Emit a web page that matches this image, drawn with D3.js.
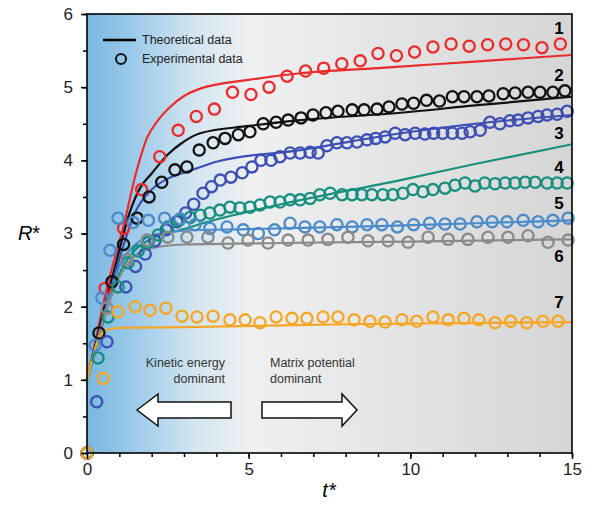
<!DOCTYPE html>
<meta charset="utf-8">
<html><head>
<title>R* vs t*</title>
<style>
  body { margin: 0; background: #fff; }
  text { font-family: "Liberation Sans", Arial, sans-serif; }
</style>
</head><body>
<script src="https://cdn.jsdelivr.net/npm/d3@7"></script>
<script>

// theoretical curves, [t*, R*]
var theory1 = [[0,1.0],[0.3,1.6],[0.56,2.15],[0.85,2.65],[1.13,3.1],[1.5,3.8],[1.85,4.3],[2.2,4.55],[2.57,4.73],[3.0,4.88],[3.5,4.98],[5,5.1],[6.6,5.19],[9,5.26],[12,5.35],[15,5.44]];
var theory2 = [[0,1.0],[0.3,1.55],[0.6,2.1],[0.9,2.6],[1.33,3.3],[1.64,3.62],[2.0,3.82],[2.5,4.08],[2.88,4.22],[3.5,4.37],[5,4.47],[6.6,4.55],[9.7,4.65],[12,4.75],[15,4.87]];
var theory3 = [[0,1.0],[0.3,1.5],[0.6,2.0],[1.0,2.65],[1.5,3.3],[2.0,3.6],[2.5,3.75],[3.2,3.86],[4,3.98],[6.6,4.14],[9.7,4.37],[12,4.5],[15,4.62]];
var theory4 = [[0,1.0],[0.3,1.45],[0.6,1.95],[1.0,2.45],[1.5,2.78],[2,2.93],[3,3.06],[3.5,3.13],[6,3.4],[9.7,3.73],[12,3.95],[15,4.22]];
var theory5 = [[0,1.0],[0.3,1.5],[0.6,2.0],[1.0,2.55],[1.5,2.85],[2,2.97],[3,3.04],[5,3.06],[9,3.1],[12,3.14],[15,3.18]];
var theory6 = [[0,1.0],[0.3,1.5],[0.6,1.95],[1.0,2.4],[1.5,2.7],[2,2.8],[3,2.85],[6,2.87],[10,2.89],[15,2.92]];
var theory7 = [[0,1.0],[0.2,1.35],[0.4,1.6],[0.6,1.68],[1.0,1.71],[3,1.72],[8,1.76],[15,1.79]];

// experimental points, [t*, R*]
var exp1 = [[0,0],[0.56,2.25],[1.13,3.07],[1.69,3.6],[2.25,4.05],[2.82,4.41],[3.38,4.6],[3.94,4.7],[4.5,4.93],[5.07,4.9],[5.63,5.0],[6.19,5.15],[6.76,5.22],[7.32,5.26],[7.88,5.32],[8.45,5.36],[9.0,5.46],[9.57,5.43],[10.13,5.48],[10.7,5.55],[11.26,5.59],[11.82,5.56],[12.39,5.58],[12.95,5.59],[13.5,5.58],[14.07,5.54],[14.64,5.59]];
var exp2 = [[0,0],[0.37,1.64],[0.77,2.34],[1.13,2.85],[1.55,3.21],[1.92,3.5],[2.31,3.7],[2.72,3.87],[3.09,3.91],[3.47,4.14],[3.9,4.24],[4.27,4.3],[4.68,4.35],[5.04,4.39],[5.45,4.5],[5.85,4.52],[6.22,4.55],[6.62,4.58],[6.99,4.62],[7.39,4.65],[7.76,4.67],[8.2,4.69],[8.57,4.69],[8.97,4.7],[9.34,4.73],[9.74,4.77],[10.1,4.78],[10.5,4.82],[10.9,4.81],[11.3,4.87],[11.66,4.87],[12.06,4.87],[12.43,4.88],[12.87,4.91],[13.24,4.92],[13.64,4.93],[14.01,4.93],[14.41,4.93],[14.78,4.95]];
var exp3 = [[0,0],[0.3,0.7],[0.62,1.52],[1.2,2.27],[1.5,2.55],[1.8,2.72],[2.1,2.9],[2.45,3.05],[2.78,3.16],[3.05,3.28],[3.3,3.4],[3.59,3.55],[3.85,3.64],[4.12,3.73],[4.45,3.77],[4.8,3.83],[5.1,3.91],[5.38,4.0],[5.69,4.0],[5.97,4.05],[6.28,4.1],[6.59,4.1],[6.9,4.11],[7.15,4.1],[7.42,4.2],[7.73,4.24],[8.04,4.24],[8.35,4.25],[8.66,4.28],[8.93,4.3],[9.22,4.32],[9.53,4.37],[9.84,4.35],[10.15,4.37],[10.45,4.36],[10.72,4.37],[11.0,4.37],[11.3,4.37],[11.6,4.37],[11.85,4.39],[12.16,4.41],[12.46,4.52],[12.77,4.5],[13.08,4.54],[13.33,4.55],[13.64,4.58],[13.95,4.6],[14.23,4.62],[14.54,4.63],[14.85,4.67]];
var exp4 = [[0,0],[0.34,1.3],[0.65,1.86],[0.96,2.27],[1.27,2.6],[1.58,2.76],[1.89,2.88],[2.2,2.98],[2.5,3.09],[2.85,3.18],[3.19,3.22],[3.5,3.25],[3.8,3.28],[4.11,3.32],[4.42,3.36],[4.73,3.35],[5.04,3.36],[5.35,3.39],[5.66,3.43],[5.97,3.43],[6.28,3.46],[6.59,3.46],[6.9,3.48],[7.2,3.53],[7.52,3.55],[7.89,3.53],[8.2,3.53],[8.5,3.53],[8.81,3.53],[9.15,3.53],[9.46,3.53],[9.77,3.55],[10.08,3.6],[10.39,3.57],[10.7,3.6],[11.07,3.62],[11.38,3.66],[11.69,3.69],[12.0,3.65],[12.3,3.69],[12.62,3.68],[12.93,3.69],[13.24,3.69],[13.55,3.7],[13.86,3.7],[14.23,3.69],[14.54,3.69],[14.85,3.69]];
var exp5 = [[0,0],[0.25,1.47],[0.46,2.12],[0.71,2.77],[0.96,3.21],[1.43,3.15],[1.9,3.18],[2.4,3.21],[2.88,3.2],[3.34,3.12],[3.8,3.07],[4.33,3.09],[4.83,3.05],[5.3,3.0],[5.8,3.05],[6.28,3.14],[6.74,3.09],[7.2,3.09],[7.73,3.12],[8.2,3.09],[8.66,3.12],[9.12,3.12],[9.6,3.09],[10.1,3.12],[10.6,3.14],[11.07,3.13],[11.54,3.13],[12.06,3.16],[12.53,3.16],[12.99,3.16],[13.49,3.18],[13.95,3.16],[14.41,3.18],[14.88,3.21]];
var exp6 = [[0,0],[0.62,1.98],[1.24,2.64],[1.86,2.91],[2.5,2.95],[3.09,2.95],[3.74,2.95],[4.36,2.87],[4.98,2.91],[5.6,2.87],[6.22,2.91],[6.84,2.91],[7.45,2.92],[8.07,2.95],[8.69,2.9],[9.31,2.9],[9.93,2.88],[10.55,2.95],[11.17,2.92],[11.78,2.92],[12.4,2.95],[13.02,2.95],[13.64,2.97],[14.26,2.88],[14.88,2.91]];
var exp7 = [[0,0],[0.5,1.02],[0.96,1.93],[1.49,2.0],[1.95,1.95],[2.44,1.98],[2.94,1.87],[3.4,1.86],[3.9,1.87],[4.42,1.82],[4.89,1.82],[5.35,1.78],[5.85,1.86],[6.34,1.84],[6.8,1.84],[7.3,1.86],[7.76,1.86],[8.26,1.82],[8.75,1.8],[9.22,1.79],[9.74,1.82],[10.2,1.8],[10.7,1.86],[11.17,1.82],[11.66,1.84],[12.12,1.82],[12.62,1.78],[13.1,1.8],[13.6,1.78],[14.1,1.8],[14.57,1.8]];

var seriesNames = ["1", "2", "3", "4", "5", "6", "7"];
var seriesColors = ["#ec2a2c", "#111111", "#3c4fb4", "#178f7e", "#4b8bcb", "#8a8a8a", "#f6a623"];
// where the curve numbers sit (R* value of label centre)
var labelR = [5.81, 5.17, 4.38, 3.91, 3.42, 2.69, 2.07];

var xTicks = [0, 5, 10, 15];
var yTicks = [0, 1, 2, 3, 4, 5, 6];

var theories = [theory1, theory2, theory3, theory4, theory5, theory6, theory7];
var exps = [exp1, exp2, exp3, exp4, exp5, exp6, exp7];

var width = 593, height = 509;
var mLeft = 87, mRight = 572, mTop = 14, mBottom = 453;

var svg = d3.select("body").append("svg")
    .attr("width", width)
    .attr("height", height);

var x = d3.scaleLinear().domain([0, 15]).range([mLeft, mRight]);
var y = d3.scaleLinear().domain([0, 6]).range([mBottom, mTop]);

// background gradient
var grad = svg.append("defs").append("linearGradient")
    .attr("id", "bg")
    .attr("x1", "0%").attr("x2", "100%").attr("y1", "0%").attr("y2", "0%");
grad.append("stop").attr("offset", "0%").attr("stop-color", "#79b7e0");
grad.append("stop").attr("offset", "10%").attr("stop-color", "#9dcbea");
grad.append("stop").attr("offset", "22%").attr("stop-color", "#d3e5f0");
grad.append("stop").attr("offset", "34%").attr("stop-color", "#eff0f1");
grad.append("stop").attr("offset", "100%").attr("stop-color", "#d5d5d5");

svg.append("rect")
    .attr("x", mLeft).attr("y", mTop)
    .attr("width", mRight - mLeft).attr("height", mBottom - mTop)
    .attr("fill", "url(#bg)");

// theoretical lines
var line = d3.line()
    .x(function(d) { return x(d[0]); })
    .y(function(d) { return y(d[1]); })
    .curve(d3.curveMonotoneX);

svg.append("g").selectAll("path")
    .data(theories)
    .enter().append("path")
    .attr("d", line)
    .attr("fill", "none")
    .attr("stroke", function(d, i) { return seriesColors[i]; })
    .attr("stroke-width", 2.2);

// experimental circles
exps.forEach(function(pts, i) {
  svg.append("g").selectAll("circle")
      .data(pts)
      .enter().append("circle")
      .attr("cx", function(d) { return x(d[0]); })
      .attr("cy", function(d) { return y(d[1]); })
      .attr("r", 5.6)
      .attr("fill", "none")
      .attr("stroke", seriesColors[i])
      .attr("stroke-width", 2.3);
});

// curve numbers
svg.append("g").selectAll("text")
    .data(seriesNames)
    .enter().append("text")
    .attr("x", x(14.6))
    .attr("y", function(d, i) { return y(labelR[i]); })
    .attr("dy", "0.36em")
    .attr("text-anchor", "middle")
    .style("font-size", "17px")
    .style("font-weight", "bold")
    .text(function(d) { return d; });

// frame
svg.append("rect")
    .attr("x", mLeft).attr("y", mTop)
    .attr("width", mRight - mLeft).attr("height", mBottom - mTop)
    .attr("fill", "none")
    .attr("stroke", "#000")
    .attr("stroke-width", 1.6);

// axes
var xAxis = svg.append("g")
    .attr("transform", "translate(0," + mBottom + ")")
    .call(d3.axisBottom(x).tickValues(d3.range(0, 16, 1)).tickSize(4).tickFormat(""));
var xMajor = svg.append("g")
    .attr("transform", "translate(0," + mBottom + ")")
    .call(d3.axisBottom(x).tickValues(xTicks).tickSize(6).tickPadding(4).tickFormat(d3.format("d")));
var yAxis = svg.append("g")
    .attr("transform", "translate(" + mLeft + ",0)")
    .call(d3.axisLeft(y).tickValues(d3.range(0, 6.01, 0.5)).tickSize(4).tickFormat(""));
var yMajor = svg.append("g")
    .attr("transform", "translate(" + mLeft + ",0)")
    .call(d3.axisLeft(y).tickValues(yTicks).tickSize(6).tickPadding(8).tickFormat(d3.format("d")));

[xAxis, xMajor, yAxis, yMajor].forEach(function(g) {
  g.select(".domain").remove();
  g.selectAll("line").attr("stroke", "#000").attr("stroke-width", 1.5);
  g.selectAll("text")
      .attr("fill", "#222")
      .style("font-size", "17px")
      .style("font-family", "Liberation Sans, Arial, sans-serif");
});

// axis titles
svg.append("text")
    .attr("x", 329).attr("y", 497)
    .attr("text-anchor", "middle")
    .style("font-size", "20px")
    .style("font-style", "italic")
    .text("t*");

svg.append("text")
    .attr("x", 29).attr("y", 240)
    .attr("text-anchor", "middle")
    .style("font-size", "20px")
    .html("<tspan font-style='italic'>R</tspan>*");

// legend
var legend = svg.append("g");
legend.append("line")
    .attr("x1", 103).attr("x2", 136)
    .attr("y1", 40).attr("y2", 40)
    .attr("stroke", "#000").attr("stroke-width", 2.5);
legend.append("text")
    .attr("x", 142).attr("y", 44)
    .style("font-size", "12.5px")
    .attr("fill", "#222")
    .text("Theoretical data");
legend.append("circle")
    .attr("cx", 121).attr("cy", 59).attr("r", 5)
    .attr("fill", "none").attr("stroke", "#111").attr("stroke-width", 2);
legend.append("text")
    .attr("x", 142).attr("y", 63)
    .style("font-size", "12.5px")
    .attr("fill", "#222")
    .text("Experimental data");

// annotations and arrows
var note = svg.append("g").style("font-size", "12.5px").attr("fill", "#333");
note.append("text").attr("x", 225).attr("y", 367).attr("text-anchor", "end").text("Kinetic energy");
note.append("text").attr("x", 225).attr("y", 383).attr("text-anchor", "end").text("dominant");
note.append("text").attr("x", 270).attr("y", 367).text("Matrix potential");
note.append("text").attr("x", 270).attr("y", 383).text("dominant");

function arrow(tipX, baseX, headX) {
  var yc = 410;
  return "M" + tipX + "," + yc +
      "L" + headX + "," + (yc - 16) +
      "L" + headX + "," + (yc - 8) +
      "L" + baseX + "," + (yc - 8) +
      "L" + baseX + "," + (yc + 8) +
      "L" + headX + "," + (yc + 8) +
      "L" + headX + "," + (yc + 16) + "Z";
}
svg.append("path").attr("d", arrow(137, 231, 158))
    .attr("fill", "#fff").attr("stroke", "#111").attr("stroke-width", 1.5);
svg.append("path").attr("d", arrow(357, 262, 342))
    .attr("fill", "#fff").attr("stroke", "#111").attr("stroke-width", 1.5);

</script>
</body>
</html>
